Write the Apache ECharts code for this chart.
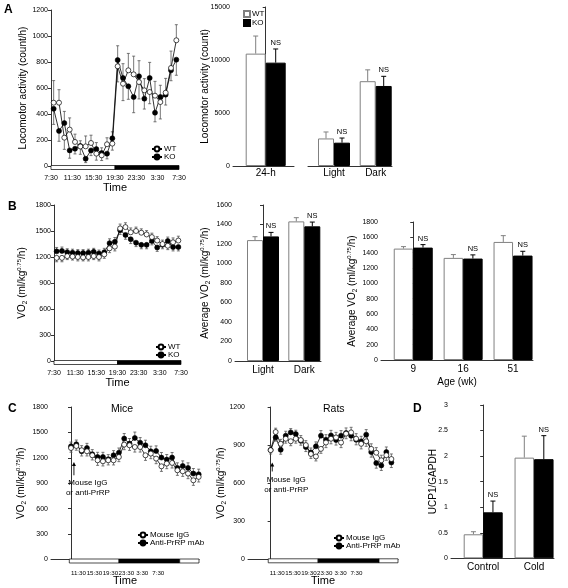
<!DOCTYPE html>
<html><head><meta charset="utf-8">
<script src="https://cdn.jsdelivr.net/npm/echarts@6/dist/echarts.min.js"></script>
<style>html,body{margin:0;padding:0;background:#fff}#c{width:568px;height:588px}</style>
</head><body><div id="c"></div><script>
const FONT = '"Liberation Sans", Arial, Helvetica, sans-serif';
const AX = '#333';
const GREY = '#808080';

// ---------- Panel A : locomotor activity ----------
const hourTicks = ['7:30','11:30','15:30','19:30','23:30','3:30','7:30'];
const locoWT    = [487,487,218,280,185,150,151,177,95,82,167,172,767,633,736,705,646,582,569,541,492,564,754,967];
const locoWTErr = [170,100,90,90,60,60,80,60,50,40,50,50,120,130,130,140,130,90,90,110,130,110,130,120];
const locoKO    = [440,270,330,120,133,154,56,120,130,100,95,213,815,677,613,530,690,518,677,410,531,549,736,818];
const locoKOErr = [120,80,90,60,40,40,30,40,50,40,40,50,110,110,100,120,120,80,120,70,90,80,80,120];
const dayPhases = [[0,12,0],[12,24,1]];   // hours after 7:30 ; 0 light, 1 dark

const locoTotalCats = ['24-h'];
const locoTotalWT = [10600], locoTotalWTErr = [1660];
const locoTotalKO = [9750],  locoTotalKOErr = [1290];
const locoTotalNS = ['NS'];
const locoPhaseCats = ['Light','Dark'];
const locoPhaseWT = [2600, 8000], locoPhaseWTErr = [610, 1070];
const locoPhaseKO = [2200, 7550], locoPhaseKOErr = [440, 910];
const locoPhaseNS = ['NS','NS'];

// ---------- Panel B : VO2 ----------
const vo2WT    = [1190,1190,1210,1205,1200,1195,1200,1210,1200,1230,1300,1320,1530,1545,1485,1500,1480,1460,1430,1390,1350,1330,1370,1390];
const vo2WTErr = [45,45,40,40,45,40,45,40,45,45,50,50,50,50,50,45,45,45,45,45,45,45,50,50];
const vo2KO    = [1265,1270,1255,1250,1245,1245,1250,1260,1240,1255,1360,1375,1510,1455,1405,1365,1340,1340,1385,1310,1340,1385,1315,1315];
const vo2KOErr = [45,45,40,40,40,40,40,40,40,45,50,50,50,50,50,45,45,45,45,45,45,45,45,45];
const vo2PhaseCats = ['Light','Dark'];
const vo2PhaseWT = [1240,1432], vo2PhaseWTErr = [35,38];
const vo2PhaseKO = [1278,1381], vo2PhaseKOErr = [41,44];
const vo2PhaseNS = ['NS','NS'];
const ageCats = ['9','16','51'];
const vo2AgeWT = [1453,1332,1540], vo2AgeWTErr = [26,43,82];
const vo2AgeKO = [1466,1323,1362], vo2AgeKOErr = [39,48,56];
const vo2AgeNS = ['NS','NS','NS'];

// ---------- Panel C : antibody ----------
const cTickLabels = ['11:30','15:30','19:30','23:30','3:30','7:30'];
const miceTicks = [1.4,4.4,7.4,10.4,13.4,16.4];
const miceIgG    = [1316,1340,1289,1277,1230,1171,1159,1171,1171,1210,1356,1348,1328,1328,1230,1250,1191,1100,1132,1140,1053,1041,1014,935,975];
const miceIgGErr = [50,50,55,55,55,60,55,55,55,55,60,60,60,60,60,60,60,60,60,60,60,60,60,60,60];
const miceAb     = [1336,1360,1277,1316,1242,1210,1210,1183,1230,1261,1427,1368,1434,1379,1348,1277,1281,1203,1179,1203,1081,1104,1081,1014,1006];
const miceAbErr  = [50,50,55,55,55,55,55,55,55,55,60,60,70,60,60,60,60,60,60,60,60,60,60,60,60];
const micePhases = [[-0.32,9.02,0],[9.02,20.43,1],[20.43,24.06,0]];
const miceArrow  = [[0.55,1150,994]];
const ratTicks = [1.31,4.46,7.61,10.76,13.91,17.06];
const ratIgG    = [860,1003,910,950,930,950,940,900,830,810,870,920,950,960,920,990,1000,950,910,930,870,840,780,820,790];
const ratIgGErr = [30,30,35,35,35,35,35,35,35,35,35,40,40,40,40,40,40,40,40,40,40,40,40,40,40];
const ratAb     = [861,961,863,974,1000,987,934,884,842,890,974,942,976,940,974,995,974,942,929,982,845,758,740,845,763];
const ratAbErr  = [30,30,35,35,30,30,35,35,35,35,40,40,40,40,40,40,40,40,40,40,40,40,40,40,40];
const ratPhases = [[-0.48,9.44,0],[9.44,21.55,1],[21.55,25.32,0]];
const ratArrow  = [[0.32,763,692]];
const arrowText = ['Mouse IgG','or anti-PrRP'];

// ---------- Panel D : UCP1 ----------
const ucpCats = ['Control','Cold'];
const ucpWT = [0.47,1.97], ucpWTErr = [0.05,0.42];
const ucpKO = [0.90,1.94], ucpKOErr = [0.22,0.46];
const ucpNS = ['NS','NS'];

// =============== helpers ===============
const grids = [], xAxes = [], yAxes = [], series = [], legends = [], extraX = [];

function nearestLabel(ticks, labels) {
  return v => { let k = 0, b = 1e9; ticks.forEach((t, i) => { const d = Math.abs(t - v); if (d < b) { b = d; k = i; } }); return labels[k]; };
}
function vo2Name(prefix) { return '{a|' + prefix + 'VO}{sub|2}{a| (ml/kg}{sup|0.75}{a|/h)}'; }
const nameStyle = {
  fontSize: 10, fontFamily: FONT, color: '#000',
  rich: {
    a: { fontSize: 10, fontFamily: FONT, color: '#000', lineHeight: 13 },
    sub: { fontSize: 6.5, fontFamily: FONT, color: '#000', lineHeight: 6, verticalAlign: 'bottom' },
    sup: { fontSize: 6, fontFamily: FONT, color: '#000', lineHeight: 6, verticalAlign: 'top' }
  }
};
function addPanel(grid, x, y) {
  grids.push(grid);
  const gi = grids.length - 1;
  xAxes.push(Object.assign({ gridIndex: gi, type: 'value', splitLine: { show: false }, nameMoveOverlap: false,
    axisLine: { show: true, onZero: false, lineStyle: { color: AX, width: 1 } }, axisTick: { show: false } }, x));
  yAxes.push(Object.assign({ gridIndex: gi, type: 'value', min: 0, splitLine: { show: false }, nameMoveOverlap: false,
    axisLine: { show: true, lineStyle: { color: AX, width: 1 } },
    axisTick: { show: true, length: 3, lineStyle: { color: AX, width: 1 } },
    axisLabel: { fontSize: 7, color: '#000', fontFamily: FONT, margin: 3, formatter: v => String(v) },
    nameLocation: 'middle', nameTextStyle: nameStyle }, y));
  return gi;
}
function errRender(color, cap) {
  return function (params, api) {
    const x = api.value(0), y = api.value(1), e = api.value(2), d = api.value(3);
    const a = api.coord([x, y]), b = api.coord([x, y + d * e]);
    const st = { stroke: color, lineWidth: 0.8 };
    return { type: 'group', children: [
      { type: 'line', shape: { x1: a[0], y1: a[1], x2: b[0], y2: b[1] }, style: st },
      { type: 'line', shape: { x1: b[0] - cap, y1: b[1], x2: b[0] + cap, y2: b[1] }, style: st }
    ] };
  };
}
function phaseRender(params, api) {
  const a = api.coord([api.value(0), 0]), b = api.coord([api.value(1), 0]);
  return { type: 'rect', shape: { x: a[0], y: a[1] - 0.5, width: b[0] - a[0], height: 4 },
    style: { fill: api.value(2) ? '#000' : '#fff', stroke: '#000', lineWidth: 0.7 } };
}
function arrowRender(params, api) {
  const tip = api.coord([api.value(0), api.value(1)]), base = api.coord([api.value(0), api.value(2)]);
  return { type: 'group', children: [
    { type: 'line', shape: { x1: base[0], y1: base[1], x2: tip[0], y2: tip[1] + 2 }, style: { stroke: '#000', lineWidth: 0.9 } },
    { type: 'polygon', shape: { points: [[tip[0], tip[1]], [tip[0] - 2, tip[1] + 4], [tip[0] + 2, tip[1] + 4]] }, style: { fill: '#000' } },
    { type: 'text', style: { text: arrowText.join('\n'), x: base[0] + 14, y: base[1] + 3, textAlign: 'center', textVerticalAlign: 'top',
      fontSize: 8, lineHeight: 10, fontFamily: FONT, fill: '#000' } }
  ] };
}
function timeCourse(gi, xOf, A, B, phases, legendPos, arrow) {
  // A = open symbols, B = filled symbols
  const ptsA = A.vals.map((v, i) => [xOf(i), v]);
  const ptsB = B.vals.map((v, i) => [xOf(i), v]);
  const errA = A.vals.map((v, i) => [xOf(i), v, A.err[i], v >= B.vals[i] ? 1 : -1]);
  const errB = B.vals.map((v, i) => [xOf(i), v, B.err[i], v > A.vals[i] ? 1 : -1]);
  series.push({ type: 'custom', xAxisIndex: gi, yAxisIndex: gi, renderItem: phaseRender, clip: false,
    data: phases.map(p => [p[0], p[1], p[2], 0]), encode: { x: [0, 1], y: 3 }, z: 5, silent: true });
  series.push({ type: 'custom', xAxisIndex: gi, yAxisIndex: gi, renderItem: errRender('#555', 1.5), clip: false,
    data: errA, encode: { x: 0, y: 1 }, z: 1, silent: true });
  series.push({ type: 'custom', xAxisIndex: gi, yAxisIndex: gi, renderItem: errRender('#555', 1.5), clip: false,
    data: errB, encode: { x: 0, y: 1 }, z: 1, silent: true });
  series.push({ type: 'line', name: B.name, xAxisIndex: gi, yAxisIndex: gi, data: ptsB, symbol: 'circle', symbolSize: 5,
    itemStyle: { color: '#000', borderColor: '#000', borderWidth: 0.6 }, lineStyle: { color: '#000', width: 0.8 }, z: 3 });
  series.push({ type: 'line', name: A.name, xAxisIndex: gi, yAxisIndex: gi, data: ptsA, symbol: 'circle', symbolSize: 5,
    itemStyle: { color: '#fff', borderColor: '#000', borderWidth: 0.7 }, lineStyle: { color: '#000', width: 0.8 }, z: 4 });
  if (arrow) series.push({ type: 'custom', xAxisIndex: gi, yAxisIndex: gi, renderItem: arrowRender, clip: false,
    data: arrow, encode: { x: 0, y: [1, 2] }, z: 6, silent: true });
  legends.push(Object.assign({ data: [A.name, B.name], orient: 'vertical', itemWidth: 10, itemHeight: 6, itemGap: 0,
    selectedMode: false, formatter: n => n.split('|')[0], textStyle: { fontSize: 8, fontFamily: FONT, color: '#000', padding: [0,0,0,-3] } }, legendPos));
}
function barErrRender(color, barW, side, ns) {
  return function (params, api) {
    const x = api.value(0), y = api.value(1), e = api.value(2);
    const a = api.coord([x, y]), b = api.coord([x, y + e]);
    const cx = a[0] + side * barW / 2;
    const st = { stroke: color, lineWidth: 1 };
    const ch = [
      { type: 'line', shape: { x1: cx, y1: a[1], x2: cx, y2: b[1] }, style: st },
      { type: 'line', shape: { x1: cx - 2.5, y1: b[1], x2: cx + 2.5, y2: b[1] }, style: st }
    ];
    if (ns && ns[params.dataIndex]) ch.push({ type: 'text', style: { text: ns[params.dataIndex], x: cx, y: b[1] - 2,
      textAlign: 'center', textVerticalAlign: 'bottom', fontSize: 7.5, fontFamily: FONT, fill: '#000' } });
    return { type: 'group', children: ch };
  };
}
function barPair(gi, wt, wtErr, ko, koErr, ns, barW, names) {
  series.push({ type: 'bar', name: names[0], xAxisIndex: gi, yAxisIndex: gi, barWidth: barW, barGap: '0%',
    data: wt.map((v, i) => [i, v]), itemStyle: { color: '#fff', borderColor: GREY, borderWidth: 1 }, z: 2 });
  series.push({ type: 'bar', name: names[1], xAxisIndex: gi, yAxisIndex: gi, barWidth: barW, barGap: '0%',
    data: ko.map((v, i) => [i, v]), itemStyle: { color: '#000', borderColor: '#000', borderWidth: 1 }, z: 2 });
  series.push({ type: 'custom', xAxisIndex: gi, yAxisIndex: gi, renderItem: barErrRender(GREY, barW, -1, null), clip: false,
    data: wt.map((v, i) => [i, v, wtErr[i]]), encode: { x: 0, y: 1 }, z: 3, silent: true });
  series.push({ type: 'custom', xAxisIndex: gi, yAxisIndex: gi, renderItem: barErrRender('#000', barW, 1, ns), clip: false,
    data: ko.map((v, i) => [i, v, koErr[i]]), encode: { x: 0, y: 1 }, z: 3, silent: true });
}
function catX(cats, min, max, margin, fontSize) {
  const ticks = cats.map((c, i) => i);
  return { min, max, axisLabel: { customValues: ticks, formatter: nearestLabel(ticks, cats), fontSize: fontSize || 10,
    showMinLabel: true, showMaxLabel: true, color: '#000', fontFamily: FONT, margin } };
}
const hourVals = hourTicks.map((t, i) => i * 4);
function hourX() {
  return { min: 0, max: 24, interval: 4, axisLine: { show: false },
    axisLabel: { fontSize: 7, color: '#000', fontFamily: FONT, margin: 8.5, interval: 0, hideOverlap: false,
      showMinLabel: true, showMaxLabel: true, formatter: nearestLabel(hourVals, hourTicks) },
    name: 'Time', nameLocation: 'middle', nameGap: 16, nameTextStyle: { fontSize: 11, fontFamily: FONT, color: '#000', verticalAlign: 'top' } };
}
// closely packed tick labels: alternate ones go on a second, line-less axis so none is dropped
function cLabelAxis(gi, min, max, vals, ticks, showLine, extra) {
  return Object.assign({ gridIndex: gi, type: 'value', position: 'bottom', offset: 0, min, max, splitLine: { show: false },
    nameMoveOverlap: false, axisTick: { show: false },
    axisLine: { show: showLine, onZero: false, lineStyle: { color: AX, width: 1 } },
    axisLabel: { customValues: vals, showMinLabel: true, showMaxLabel: true, hideOverlap: false,
      fontSize: 6.2, color: '#000', fontFamily: FONT, margin: 11, formatter: nearestLabel(ticks, cTickLabels) } }, extra || {});
}
function cPanel(grid, min, max, ticks, y) {
  const even = ticks.filter((t, i) => i % 2 === 0), odd = ticks.filter((t, i) => i % 2 === 1);
  const gi = addPanel(grid, {}, y);
  xAxes[gi] = cLabelAxis(gi, min, max, even, ticks, true, {
    name: 'Time', nameLocation: 'middle', nameGap: 16, nameTextStyle: { fontSize: 11, fontFamily: FONT, color: '#000', verticalAlign: 'top' } });
  extraX.push(cLabelAxis(gi, min, max, odd, ticks, false));
  return gi;
}

// =============== Panel A ===============
const gA1 = addPanel({ left: 51, top: 10, width: 128, height: 156 }, hourX(),
  { max: 1200, interval: 200, name: 'Locomotor activity (count/h)', nameGap: 23 });
timeCourse(gA1, i => i + 0.5, { name: 'WT|a1', vals: locoWT, err: locoWTErr }, { name: 'KO|a1', vals: locoKO, err: locoKOErr },
  dayPhases, { left: 146, top: 140 });

const gA2 = addPanel({ left: 233, top: 7, width: 61, height: 159 }, catX(locoTotalCats, -0.784, 0.679, 2.6),
  { max: 15000, interval: 5000, name: 'Locomotor activity (count)', nameGap: 23 });
barPair(gA2, locoTotalWT, locoTotalWTErr, locoTotalKO, locoTotalKOErr, locoTotalNS, 20, ['WT|a2', 'KO|a2']);
const gA3 = addPanel({ left: 308, top: 7, width: 84, height: 159 }, catX(locoPhaseCats, -0.624, 1.391, 2.6),
  { max: 15000, interval: 5000, show: false });
barPair(gA3, locoPhaseWT, locoPhaseWTErr, locoPhaseKO, locoPhaseKOErr, locoPhaseNS, 16, ['WT|a3', 'KO|a3']);
legends.push({ data: ['WT|a2', 'KO|a2'], orient: 'vertical', left: 238, top: 5, itemWidth: 6, itemHeight: 6, itemGap: 1, icon: 'rect',
  selectedMode: false, formatter: n => n.split('|')[0], textStyle: { fontSize: 8, fontFamily: FONT, color: '#000', padding: [0,0,0,-3] } });

// =============== Panel B ===============
const gB1 = addPanel({ left: 54, top: 205, width: 127, height: 156 }, hourX(),
  { max: 1800, interval: 300, name: vo2Name(''), nameGap: 25 });
timeCourse(gB1, i => i + 0.5, { name: 'WT|b1', vals: vo2WT, err: vo2WTErr }, { name: 'KO|b1', vals: vo2KO, err: vo2KOErr },
  dayPhases, { left: 150, top: 338 });

const gB2 = addPanel({ left: 235, top: 205, width: 86, height: 156 }, catX(vo2PhaseCats, -0.678, 1.404, 4),
  { max: 1600, interval: 200, name: vo2Name('Average '), nameGap: 23 });
barPair(gB2, vo2PhaseWT, vo2PhaseWTErr, vo2PhaseKO, vo2PhaseKOErr, vo2PhaseNS, 16, ['WT|b2', 'KO|b2']);

const gB3X = catX(ageCats, -0.646, 2.4, 4.5);
gB3X.name = 'Age (wk)'; gB3X.nameLocation = 'middle'; gB3X.nameGap = 17.5;
gB3X.nameTextStyle = { fontSize: 10, fontFamily: FONT, color: '#000', verticalAlign: 'top' };
const gB3 = addPanel({ left: 381, top: 222, width: 152, height: 138 }, gB3X,
  { max: 1800, interval: 200, name: vo2Name('Average '), nameGap: 22 });
barPair(gB3, vo2AgeWT, vo2AgeWTErr, vo2AgeKO, vo2AgeKOErr, vo2AgeNS, 19.5, ['WT|b3', 'KO|b3']);

// =============== Panel C ===============
const gC1 = cPanel({ left: 51, top: 407, width: 148, height: 152.5 }, -3.76, 24.06, miceTicks,
  { max: 1800, interval: 300, name: vo2Name(''), nameGap: 23 });
timeCourse(gC1, i => i, { name: 'Mouse IgG|c1', vals: miceIgG, err: miceIgGErr }, { name: 'Anti-PrRP mAb|c1', vals: miceAb, err: miceAbErr },
  micePhases, { left: 132, top: 526 }, miceArrow);

const gC2 = cPanel({ left: 248, top: 407, width: 150, height: 152.3 }, -4.5, 25.32, ratTicks,
  { max: 1200, interval: 300, name: vo2Name(''), nameGap: 20 });
timeCourse(gC2, i => i, { name: 'Mouse IgG|c2', vals: ratIgG, err: ratIgGErr }, { name: 'Anti-PrRP mAb|c2', vals: ratAb, err: ratAbErr },
  ratPhases, { left: 328, top: 529 }, ratArrow);

// =============== Panel D ===============
const gD = addPanel({ left: 451, top: 405, width: 103, height: 153.3 }, catX(ucpCats, -0.633, 1.392, 4.4),
  { max: 3, interval: 0.5, name: 'UCP1/GAPDH', nameGap: 13 });
barPair(gD, ucpWT, ucpWTErr, ucpKO, ucpKOErr, ucpNS, 19.5, ['WT|d', 'KO|d']);

// =============== chart ===============
const letter = (t, x, y) => ({ type: 'text', left: x, top: y, style: { text: t, fontSize: 12, fontWeight: 'bold', fontFamily: FONT, fill: '#000' } });
const title = (t, cx, y) => ({ type: 'text', left: cx, top: y, style: { text: t, fontSize: 10.5, fontFamily: FONT, fill: '#000', textAlign: 'center' } });

const chart = echarts.init(document.getElementById('c'), null, { renderer: 'canvas' });
chart.setOption({
  animation: false,
  backgroundColor: '#fff',
  textStyle: { fontFamily: FONT },
  grid: grids, xAxis: xAxes.concat(extraX), yAxis: yAxes, legend: legends, series,
  graphic: [
    letter('A', 4, 4), letter('B', 8, 201), letter('C', 8, 403), letter('D', 413, 403),
    title('Mice', 111, 404), title('Rats', 323, 404)
  ]
});
</script></body></html>
